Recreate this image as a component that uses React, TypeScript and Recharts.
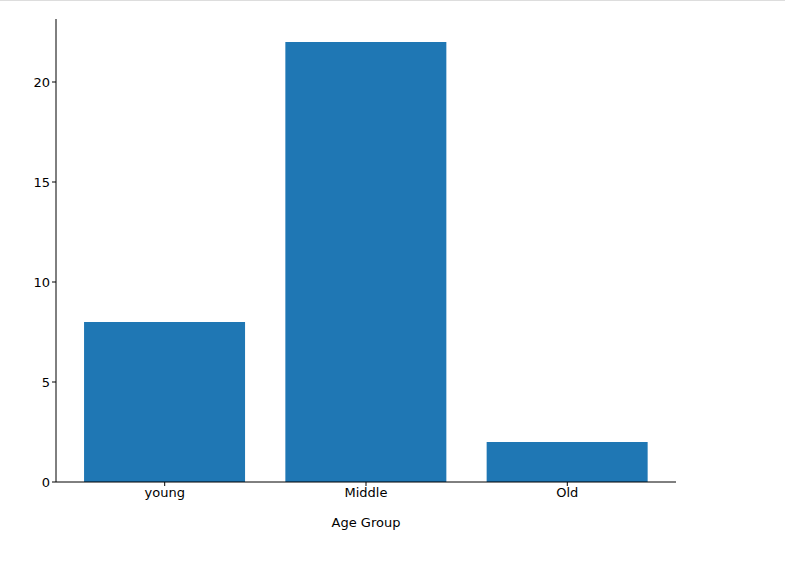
import React from "react";
import { BarChart, Bar, XAxis, YAxis } from "recharts";

const categories = ["young", "Middle", "Old"];
const counts = [8, 22, 2];
const data = categories.map((c, i) => ({ idx: i, name: c, count: counts[i] }));
const font = { fontFamily: "DejaVu Sans", fontSize: 13, fill: "#000" };
const ax = { stroke: "#000" };

export default function App() {
  return (
    <div style={{ position: "absolute", left: 0, top: 0, width: 785, height: 561, background: "#fff" }}>
      <div style={{ borderTop: "1px solid #ddd", position: "absolute", top: 0, left: 0, width: 785 }} />
      <BarChart width={785} height={561} data={data} margin={{ top: 19, right: 109, left: 0, bottom: 0 }} barCategoryGap={0}>
        <XAxis xAxisId="b" dataKey="idx" type="number" domain={[-0.54, 2.54]} ticks={[0, 1, 2]}
          tickFormatter={(v: number) => categories[v]} tick={font} axisLine={ax} tickLine={ax} tickSize={4} height={79}
          label={{ value: "Age Group", position: "insideTop", offset: 36, style: font }} />
        <XAxis xAxisId="t" orientation="top" dataKey="idx" type="number" domain={[-0.54, 2.54]} tick={false} tickLine={false} axisLine={ax} height={0} />
        <YAxis yAxisId="l" domain={[0, 23.15]} ticks={[0, 5, 10, 15, 20]} tick={font} axisLine={ax} tickLine={ax} tickSize={4} width={56} />
        <YAxis yAxisId="r" orientation="right" domain={[0, 23.15]} tick={false} tickLine={false} axisLine={ax} width={0} />
        <Bar xAxisId="b" yAxisId="l" dataKey="count" fill="#1f77b4" barSize={161} isAnimationActive={false} />
      </BarChart>
    </div>
  );
}
